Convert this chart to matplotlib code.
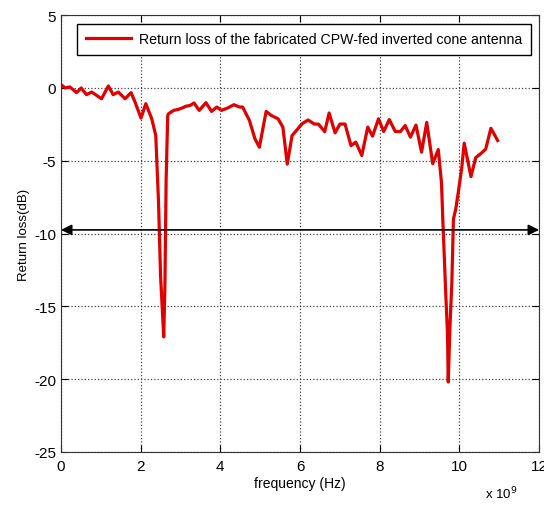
import numpy as np
from matplotlib import pyplot as plt
from matplotlib.ticker import ScalarFormatter

freq_ghz = [0.0, 0.11, 0.22, 0.30, 0.39, 0.51, 0.64, 0.77, 0.89, 1.02,
            1.19, 1.31, 1.44, 1.61, 1.76, 1.86, 2.01, 2.13, 2.28, 2.38,
            2.45, 2.50, 2.55, 2.58, 2.61, 2.64, 2.68, 2.70, 2.83, 2.95,
            3.08, 3.13, 3.24, 3.34, 3.47, 3.64, 3.78, 3.91, 4.03, 4.18,
            4.34, 4.48, 4.56, 4.73, 4.87, 4.98, 5.15, 5.28, 5.45, 5.57,
            5.68, 5.80, 5.91, 6.05, 6.20, 6.36, 6.46, 6.62, 6.73, 6.88,
            7.00, 7.13, 7.28, 7.40, 7.55, 7.70, 7.82, 7.97, 8.10, 8.24,
            8.39, 8.52, 8.64, 8.77, 8.91, 9.05, 9.18, 9.33, 9.47, 9.55,
            9.59, 9.66, 9.70, 9.72, 9.76, 9.81, 9.85, 9.91, 9.97, 10.06,
            10.12, 10.29, 10.41, 10.52, 10.66, 10.79, 10.96]
s11_db = [0.23, 0.0, 0.07, -0.1, -0.32, 0.0, -0.46, -0.28, -0.5, -0.74,
          0.14, -0.46, -0.28, -0.74, -0.32, -0.97, -2.07, -1.08, -2.12, -3.27,
          -7.9, -12.9, -15.5, -17.1, -13.5, -6.3, -1.9, -1.77, -1.54, -1.47,
          -1.33, -1.26, -1.2, -1.03, -1.54, -1.01, -1.61, -1.31, -1.54, -1.38,
          -1.15, -1.31, -1.31, -2.23, -3.5, -4.07, -1.61, -1.89, -2.12, -2.69,
          -5.23, -3.27, -2.92, -2.46, -2.2, -2.48, -2.48, -3.0, -1.72, -3.08,
          -2.48, -2.48, -3.96, -3.72, -4.64, -2.69, -3.31, -2.12, -2.99, -2.17,
          -2.99, -2.99, -2.58, -3.38, -2.55, -4.41, -2.37, -5.2, -4.23, -6.5,
          -9.5, -14.3, -16.8, -20.2, -16.6, -13.4, -9.0, -8.3, -7.2, -5.46,
          -3.79, -6.09, -4.78, -4.55, -4.2, -2.77, -3.61]
ref_level = -9.75

plt.rcParams['font.family'] = ['Liberation Sans', 'DejaVu Sans']
plt.rcParams['axes.unicode_minus'] = False

freq = np.array(freq_ghz) * 1e9

fig = plt.figure(figsize=(5.44, 5.06), dpi=100)
ax = fig.add_axes([0.112, 0.105, 0.879, 0.863])

ax.plot(freq, s11_db, color='#e00000', linewidth=2.3,
        label='Return loss of the fabricated CPW-fed inverted cone antenna')

# -10 dB reference arrow across the band
ax.annotate('', xy=(12e9, ref_level), xytext=(0, ref_level),
            arrowprops=dict(arrowstyle='<|-|>', color='black', lw=1.2,
                            mutation_scale=16, shrinkA=0, shrinkB=0))

ax.set_xlim(0, 12e9)
ax.set_ylim(-25, 5)
ax.set_xticks(np.arange(0, 13e9, 2e9))
ax.set_yticks(np.arange(-25, 6, 5))
fmt = ScalarFormatter()
fmt.set_powerlimits((9, 9))
ax.xaxis.set_major_formatter(fmt)
ax.xaxis.get_offset_text().set_visible(False)
fig.text(0.892, 0.008, 'x 10$^9$', fontsize=9.5, va='bottom')

ax.grid(True, linestyle=':', color='#444444', linewidth=0.9)
ax.tick_params(direction='in', top=True, right=True, labelsize=11, length=5)
ax.tick_params(axis='x', pad=5)
for s in ax.spines.values():
    s.set_color('#333333')

ax.set_xlabel('frequency (Hz)', fontsize=10, labelpad=2)
ax.set_ylabel('Return loss(dB)', fontsize=9.5, labelpad=3)

leg = ax.legend(loc='upper right', fontsize=10.2, fancybox=False,
                framealpha=1, edgecolor='black', handlelength=3.2,
                handletextpad=0.55, borderpad=0.6, borderaxespad=0.6)
leg.get_frame().set_linewidth(1.0)

plt.savefig('out.png', dpi=100)
